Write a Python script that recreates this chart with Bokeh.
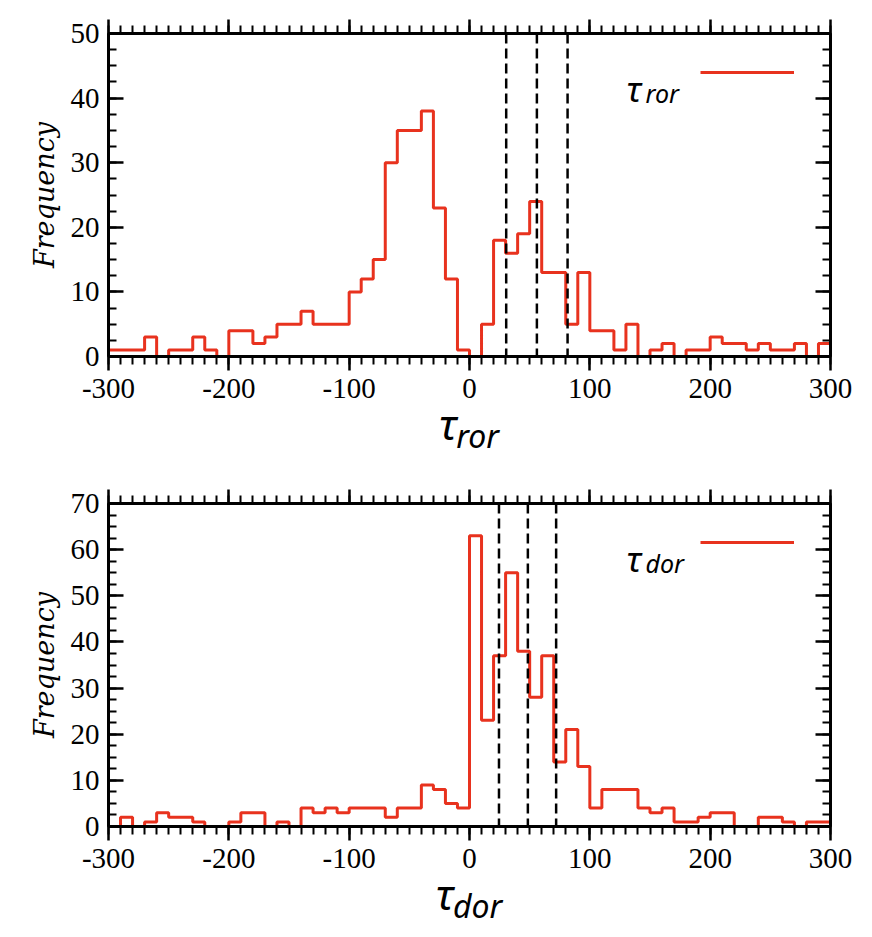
from bokeh.plotting import figure
from bokeh.models import (LinearAxis, SingleIntervalTicker, Range1d, Span, Label,
                          Legend, LegendItem, CustomJSTickFormatter, Div)
from bokeh.layouts import column
from bokeh.embed import file_html
from bokeh.resources import INLINE

# ---------------- data ----------------
bin_edges = list(range(-300, 301, 10))

ror_counts = [1, 1, 1, 3, 0, 1, 1, 3, 1, 0,
              4, 4, 2, 3, 5, 5, 7, 5, 5, 5,
              10, 12, 15, 30, 35, 35, 38, 23, 12, 1,
              0, 5, 18, 16, 19, 24, 13, 13, 5, 13,
              4, 4, 1, 5, 0, 1, 2, 0, 1, 1,
              3, 2, 2, 1, 2, 1, 1, 2, 0, 2]

dor_counts = [0, 2, 0, 1, 3, 2, 2, 1, 0, 0,
              1, 3, 3, 0, 1, 0, 4, 3, 4, 3,
              4, 4, 4, 2, 4, 4, 9, 8, 5, 4,
              63, 23, 37, 55, 38, 28, 37, 14, 21, 13,
              4, 8, 8, 8, 4, 3, 4, 1, 1, 2,
              3, 3, 0, 0, 2, 2, 1, 0, 1, 1]

ror_lines = [30.5, 56, 81.5]
dor_lines = [24.5, 48.5, 72]

x_limits = (-300, 300)
ror_ylim = (0, 50)
dor_ylim = (0, 70)

RED = "#e8321e"
TICK_FONT = "Liberation Serif"
MATH_FONT = "Noto Sans"

LEFT = 108
FRAME_W = 722
FRAME_H = 323
BOTTOM = 66


def make_panel(counts, ylim, vlines, sub, top_border):
    p = figure(frame_width=FRAME_W, frame_height=FRAME_H,
               x_range=Range1d(*x_limits), y_range=Range1d(*ylim),
               x_axis_type=None, y_axis_type=None,
               output_backend="svg", toolbar_location=None,
               min_border_left=LEFT, min_border_right=26,
               min_border_top=top_border, min_border_bottom=BOTTOM,
               background_fill_color="white", border_fill_color="white")
    p.outline_line_color = "black"
    p.outline_line_width = 3

    for side in ["below", "above", "left", "right"]:
        ax = LinearAxis()
        if side in ("below", "above"):
            ax.ticker = SingleIntervalTicker(interval=100, num_minor_ticks=10)
            ax.major_tick_in, ax.major_tick_out = 0, 14
            ax.minor_tick_in, ax.minor_tick_out = 0, 8
        else:
            ax.ticker = SingleIntervalTicker(interval=10, num_minor_ticks=4)
            ax.major_tick_in, ax.major_tick_out = 15, 0
            ax.minor_tick_in, ax.minor_tick_out = 8, 0
        ax.axis_line_width = 3
        ax.major_tick_line_width = 2.5
        ax.minor_tick_line_width = 2
        ax.major_label_text_font = TICK_FONT
        ax.major_label_text_font_size = "29px"
        ax.major_label_text_color = "black"
        if side in ("below", "left"):
            ax.formatter = CustomJSTickFormatter(code="return tick.toFixed(0)")
        if side == "below":
            ax.major_label_standoff = 8
        elif side == "left":
            ax.major_label_standoff = 9
            ax.axis_label = "Frequency"
            ax.axis_label_text_font = "DejaVu Serif"
            ax.axis_label_text_font_style = "italic"
            ax.axis_label_text_font_size = "27px"
            ax.axis_label_text_color = "black"
            ax.axis_label_standoff = 8
        else:
            ax.formatter = CustomJSTickFormatter(code="return ''")
            ax.major_label_text_font_size = "0px"
            ax.major_label_standoff = 0
        p.add_layout(ax, side)

    r = p.step(x=bin_edges, y=counts + [counts[-1]], mode="after",
               line_color=RED, line_width=3)

    for v in vlines:
        p.add_layout(Span(location=v, dimension="height", line_color="black",
                          line_dash="10 5", line_width=2.5))

    # legend (line) + legend text
    legend = Legend(items=[LegendItem(label=" ", renderers=[r])],
                    location=(592, 274), padding=0, margin=0, spacing=0,
                    glyph_width=94, glyph_height=20, label_standoff=0,
                    label_width=0, label_height=20, label_text_font_size="1px",
                    border_line_alpha=0, background_fill_alpha=0)
    p.add_layout(legend, "center")
    p.add_layout(Label(x=518, y=268, x_units="screen", y_units="screen",
                       text="τ", text_font=MATH_FONT, text_font_style="italic",
                       text_font_size="35px", text_baseline="alphabetic",
                       text_color="black"))
    p.add_layout(Label(x=537, y=264, x_units="screen", y_units="screen",
                       text=sub, text_font=MATH_FONT, text_font_style="italic",
                       text_font_size="25px", text_baseline="alphabetic",
                       text_color="black"))
    return p


def x_label(sub):
    html = (
        f'<div style="width:{FRAME_W}px;margin-left:{LEFT}px;text-align:center;'
        f'font-family:\'{MATH_FONT}\';font-style:italic;color:black;'
        'font-size:42px;line-height:26px;position:relative;top:-11px;">τ'
        '<span style="font-size:32px;position:relative;top:8px;margin-left:0px;">'
        f'{sub}</span></div>'
    )
    return Div(text=html, width=LEFT + FRAME_W + 26, height=40, margin=0,
               styles={"overflow": "visible"})


p1 = make_panel(ror_counts, ror_ylim, ror_lines, "ror", 33)
p2 = make_panel(dor_counts, dor_ylim, dor_lines, "dor", 41)

layout = column(p1, x_label("ror"), p2, x_label("dor"), spacing=0)
open("out.html", "w").write(file_html(layout, INLINE))
